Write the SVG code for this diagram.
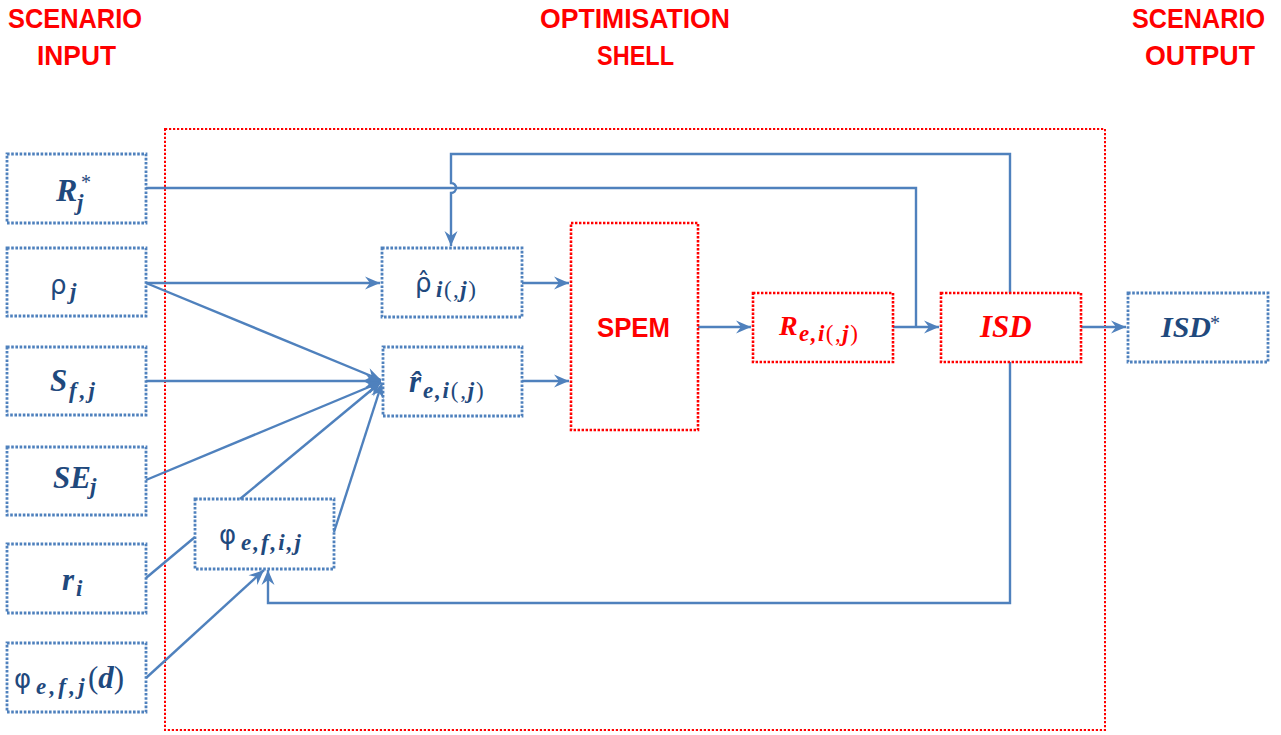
<svg xmlns="http://www.w3.org/2000/svg" width="1281" height="735" viewBox="0 0 1281 735">
<defs>
<marker id="ah" markerUnits="userSpaceOnUse" viewBox="-16 -8 17 16" refX="0" refY="0" markerWidth="17" markerHeight="16" orient="auto">
<path d="M0,0 L-15,-6.5 L-10,0 L-15,6.5 Z" fill="#4F81BD"/>
</marker>
</defs>
<style>
.hdr{font-family:"Liberation Sans",sans-serif;font-weight:bold;font-size:28px;fill:#FF0000}
.bb{fill:none;stroke:#4F81BD;stroke-width:2.8;stroke-dasharray:2.6 1.6}
.rb{fill:none;stroke:#FF0000;stroke-width:2.6;stroke-dasharray:2.4 1.6}
.shell{fill:none;stroke:#FF0000;stroke-width:2;stroke-dasharray:2.2 1.8}
.c{fill:none;stroke:#4F81BD;stroke-width:2.4}
.m{font-family:"Liberation Serif",serif;font-weight:bold;font-style:italic;font-size:31px;fill:#1F497D}
.red{fill:#FF0000}
.s{font-size:23px}
.g{font-family:"DejaVu Sans",sans-serif;font-style:normal;font-weight:normal;font-size:26px}
.up{font-style:normal;font-weight:normal}
.spem{font-family:"Liberation Sans",sans-serif;font-weight:bold;font-size:27px;fill:#FF0000}
</style>
<g id="headers">
<text class="hdr" x="8" y="28" textLength="134" lengthAdjust="spacingAndGlyphs">SCENARIO</text>
<text class="hdr" x="37" y="65" textLength="79" lengthAdjust="spacingAndGlyphs">INPUT</text>
<text class="hdr" x="540" y="28" textLength="190" lengthAdjust="spacingAndGlyphs">OPTIMISATION</text>
<text class="hdr" x="597" y="65" textLength="77" lengthAdjust="spacingAndGlyphs">SHELL</text>
<text class="hdr" x="1132" y="28" textLength="133" lengthAdjust="spacingAndGlyphs">SCENARIO</text>
<text class="hdr" x="1145" y="65" textLength="110" lengthAdjust="spacingAndGlyphs">OUTPUT</text>
</g>
<g id="shell"><rect class="shell" x="165" y="129" width="940" height="601"/></g>
<g id="connectors">
<path class="c" d="M146,188 H916 V327"/>
<path class="c" d="M1010,293 V154 H451 V183 A5,5 0 0 1 451,193 V246" marker-end="url(#ah)"/>
<path class="c" d="M146,283 H380" marker-end="url(#ah)"/>
<path class="c" d="M146,283 L381,380" marker-end="url(#ah)"/>
<path class="c" d="M146,381 H381" marker-end="url(#ah)"/>
<path class="c" d="M146,480 L381,382" marker-end="url(#ah)"/>
<path class="c" d="M240,499 L381,382" marker-end="url(#ah)"/>
<path class="c" d="M334,532 L382,383" marker-end="url(#ah)"/>
<path class="c" d="M146,578 L195,537"/>
<path class="c" d="M146,678 L264,570" marker-end="url(#ah)"/>
<path class="c" d="M1010,362 V603 H268 V570" marker-end="url(#ah)"/>
<path class="c" d="M522,283 H569" marker-end="url(#ah)"/>
<path class="c" d="M522,381 H569" marker-end="url(#ah)"/>
<path class="c" d="M698,327 H751" marker-end="url(#ah)"/>
<path class="c" d="M893,327 H939" marker-end="url(#ah)"/>
<path class="c" d="M1081,327 H1126" marker-end="url(#ah)"/>
</g>
<g id="n-Rstar"><rect class="bb" x="7" y="154" width="139" height="69"/>
<text class="m"><tspan x="56" y="201" font-size="32">R</tspan><tspan class="up" x="81" y="189" font-size="20">*</tspan><tspan class="s" x="77" y="210">j</tspan></text></g>
<g id="n-rho"><rect class="bb" x="7" y="248" width="139" height="68"/>
<text class="m"><tspan class="g" x="50" y="294">ρ</tspan><tspan class="s" x="70" y="299">j</tspan></text></g>
<g id="n-S"><rect class="bb" x="7" y="347" width="139" height="68"/>
<text class="m"><tspan x="50" y="391">S</tspan><tspan class="s" x="69" y="398" letter-spacing="3">f,j</tspan></text></g>
<g id="n-SE"><rect class="bb" x="7" y="447" width="139" height="68"/>
<text class="m"><tspan x="53" y="488">SE</tspan><tspan class="s" x="90" y="494">j</tspan></text></g>
<g id="n-r"><rect class="bb" x="7" y="544" width="139" height="69"/>
<text class="m"><tspan x="62" y="590">r</tspan><tspan class="s" x="76" y="596">i</tspan></text></g>
<g id="n-phid"><rect class="bb" x="7" y="643" width="139" height="69"/>
<text class="m"><tspan class="g" x="14" y="688" font-size="27">φ</tspan><tspan class="s" x="36" y="694" letter-spacing="3.2">e,f,j</tspan><tspan class="up" x="88" y="688">(</tspan><tspan>d</tspan><tspan class="up">)</tspan></text></g>
<g id="n-phi"><rect class="bb" x="195" y="499" width="139" height="70"/>
<text class="m"><tspan class="g" x="219" y="544" font-size="27">φ</tspan><tspan class="s" x="241" y="550" letter-spacing="2">e,f,i,j</tspan></text></g>
<g id="n-rhohat"><rect class="bb" x="382" y="248" width="140" height="69"/>
<text class="m"><tspan class="g" x="415" y="292">ρ̂</tspan><tspan class="s" x="436" y="297" letter-spacing="1.5">i<tspan class="up">(,</tspan>j<tspan class="up">)</tspan></tspan></text></g>
<g id="n-rhat"><rect class="bb" x="383" y="347" width="139" height="69"/>
<text class="m"><tspan x="409" y="392">r̂</tspan><tspan class="s" x="423" y="398" letter-spacing="1.8">e,i<tspan class="up">(,</tspan>j<tspan class="up">)</tspan></tspan></text></g>
<g id="n-SPEM"><rect class="rb" x="571" y="223" width="127" height="207"/>
<text class="spem" x="597" y="337" textLength="73" lengthAdjust="spacingAndGlyphs">SPEM</text></g>
<g id="n-Rei"><rect class="rb" x="753" y="293" width="140" height="69"/>
<text class="m red"><tspan x="779" y="335" font-size="28">R</tspan><tspan class="s" x="799" y="341" letter-spacing="1.5">e,i<tspan class="up">(,</tspan>j<tspan class="up">)</tspan></tspan></text></g>
<g id="n-ISD"><rect class="rb" x="941" y="293" width="140" height="69"/>
<text class="m red" x="980" y="337" font-size="30">ISD</text></g>
<g id="n-ISDstar"><rect class="bb" x="1128" y="293" width="140" height="69"/>
<text class="m"><tspan x="1161" y="337" font-size="30">ISD</tspan><tspan class="up" x="1210" y="330" font-size="20">*</tspan></text></g>
</svg>
